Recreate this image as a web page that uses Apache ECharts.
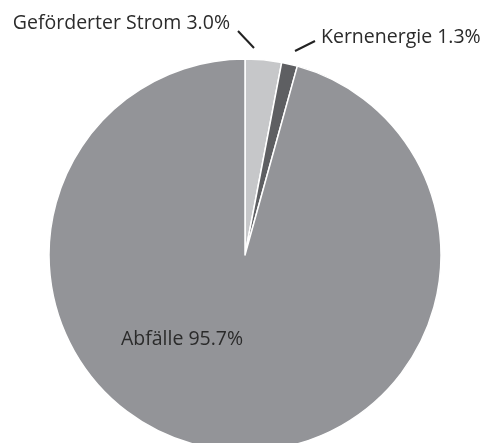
<!DOCTYPE html>
<html>
<head>
<meta charset="utf-8">
<script src="https://cdn.jsdelivr.net/npm/echarts@6/dist/echarts.min.js"></script>
<style>
  html, body { margin: 0; padding: 0; background: #fff; }
  #chart { width: 487px; height: 443px; }
</style>
</head>
<body>
<div id="chart"></div>
<script>
// Anteile am Strommix (in %)
const categories = ['Geförderter Strom', 'Kernenergie', 'Abfälle']
const shares = [3.0, 1.3, 95.7]
const sliceColors = ['#c6c7c9', '#5e5f62', '#939498']

// Label-Positionen (Pixel) und Führungslinien
const labelSpots = [
  { x: 230, y: 23, align: 'right', line: [[254, 48], [238, 31]] },
  { x: 321, y: 37, align: 'left', line: [[295, 51], [315, 41]] },
  { x: 182, y: 339, align: 'center', line: null }
]

const chart = echarts.init(document.getElementById('chart'))

const option = {
  animation: false,
  textStyle: { fontFamily: 'Open Sans' },
  series: [
    {
      type: 'pie',
      center: [245, 255],
      radius: 196,
      startAngle: 90,
      clockwise: true,
      data: categories.map((name, i) => ({
        name,
        value: shares[i],
        itemStyle: { color: sliceColors[i] },
        label: { position: i === 2 ? 'inside' : 'outside' }
      })),
      itemStyle: {
        borderColor: '#fff',
        borderWidth: 1.5
      },
      label: {
        formatter: p => p.name + ' ' + p.value.toFixed(1) + '%',
        fontSize: 19.5,
        color: '#2b2b2b',
        fontFamily: 'Open Sans',
        overflow: 'none',
        edgeDistance: 0
      },
      labelLine: {
        show: true,
        length: 10,
        length2: 0,
        lineStyle: { color: '#222', width: 2 }
      },
      labelLayout: params => {
        const s = labelSpots[params.dataIndex]
        const out = { x: s.x, y: s.y, align: s.align, verticalAlign: 'middle' }
        if (s.line) out.labelLinePoints = s.line
        return out
      },
      emphasis: { disabled: true }
    }
  ]
}

chart.setOption(option)
</script>
</body>
</html>
